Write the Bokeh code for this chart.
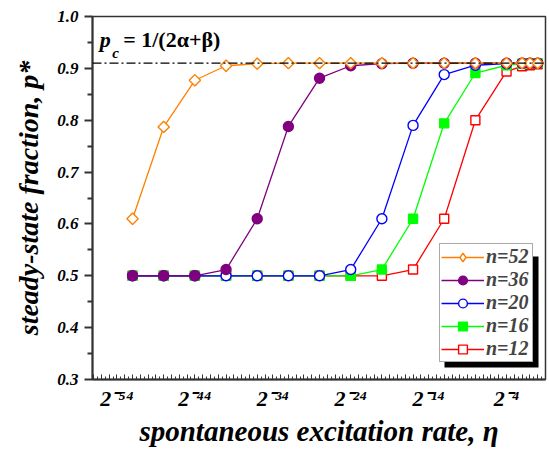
from bokeh.plotting import figure
from bokeh.models import (Range1d, FixedTicker, Legend, LegendItem, Label,
                          BoxAnnotation, Span, PrintfTickFormatter)
from bokeh.embed import file_html
from bokeh.resources import INLINE

# ---- data (eta = 2**eta_log2) ----
eta_log2 = [-52, -48, -44, -40, -36, -32, -28, -24, -20, -16, -12, -8, -4, -2, -1, 0]
p_n52 = [0.610, 0.787, 0.877, 0.905, 0.909, 0.910, 0.910, 0.910, 0.910, 0.910, 0.910, 0.910, 0.910, 0.910, 0.910, 0.910]
p_n36 = [0.500, 0.500, 0.500, 0.512, 0.610, 0.788, 0.881, 0.905, 0.909, 0.910, 0.910, 0.910, 0.910, 0.910, 0.910, 0.910]
p_n20 = [0.500, 0.500, 0.500, 0.500, 0.500, 0.500, 0.500, 0.512, 0.610, 0.790, 0.888, 0.906, 0.909, 0.910, 0.910, 0.910]
p_n16 = [0.500, 0.500, 0.500, 0.500, 0.500, 0.500, 0.500, 0.500, 0.512, 0.610, 0.794, 0.891, 0.906, 0.909, 0.910, 0.910]
p_n12 = [0.500, 0.500, 0.500, 0.500, 0.500, 0.500, 0.500, 0.500, 0.500, 0.512, 0.610, 0.800, 0.894, 0.904, 0.906, 0.908]
p_c = 0.91

x_label_exps = [-54, -44, -34, -24, -14, -4]
y_ticks = [0.3, 0.4, 0.5, 0.6, 0.7, 0.8, 0.9, 1.0]
y_minor = [0.35, 0.45, 0.55, 0.65, 0.75, 0.85, 0.95]

FONT = "Liberation Serif"
AX = "#333333"

p = figure(width=549, height=449, output_backend="svg", toolbar_location=None,
           x_range=Range1d(-57.14, 1.0), y_range=Range1d(0.3, 1.0),
           min_border_left=92, min_border_top=16, min_border_right=4, min_border_bottom=69)
p.xgrid.visible = False
p.ygrid.visible = False
p.outline_line_color = AX
p.outline_line_width = 1.5
p.background_fill_color = "white"

# ---- series ----
series = [
    (p_n12, "#ff0000", "square", "white", 9, "n=12"),
    (p_n16, "#00ff00", "square", "#00ff00", 9, "n=16"),
    (p_n20, "#0000ff", "circle", "white", 10, "n=20"),
    (p_n36, "#800080", "circle", "#800080", 10, "n=36"),
    (p_n52, "#ff8000", "diamond", "white", 8, "n=52"),
]
items = {}
for vals, col, mk, fill, sz, lab in series:
    ln = p.line(eta_log2, vals, line_color=col, line_width=1.3)
    if mk == "diamond":
        # diamond glyph used for the legend swatch (legend ignores marker angle);
        # it lies fully hidden beneath the rotated squares drawn on top of it
        sc = p.scatter(eta_log2, vals, marker="diamond", size=9,
                       line_color=col, fill_color=fill, line_width=1.4)
        p.scatter(eta_log2, vals, marker="square", angle=0.785398, size=sz,
                  line_color=col, fill_color=fill, line_width=1.4)
    else:
        sc = p.scatter(eta_log2, vals, marker=mk, size=sz,
                       line_color=col, fill_color=fill, line_width=1.4)
    items[lab] = [ln, sc]

# p_c line
p.add_layout(Span(location=p_c, dimension="width", line_color="black",
                  line_width=1.2, line_dash="9 3 2 3"))

# p_c label
p.add_layout(Label(x=-56.2, y=0.931, text="p", text_font=FONT, text_font_style="bold italic",
                   text_font_size="22px", text_color="black"))
p.add_layout(Label(x=-54.6, y=0.915, text="c", text_font=FONT, text_font_style="bold italic",
                   text_font_size="15px", text_color="black"))
p.add_layout(Label(x=-53.2, y=0.931, text="= 1/(2\u03b1+\u03b2)", text_font=FONT,
                   text_font_style="bold", text_font_size="22px", text_color="black"))

# ---- axes ----
sup = str.maketrans("-0123456789", "\u207b\u2070\u00b9\u00b2\u00b3\u2074\u2075\u2076\u2077\u2078\u2079")
x_major = list(range(-57, 2))
x_minor = [k + 0.5 for k in range(-58, 1)]
p.xaxis.ticker = FixedTicker(ticks=x_major, minor_ticks=x_minor)
p.xaxis.major_label_overrides = {k: ("2" + str(k).translate(sup) if k in x_label_exps else "")
                                 for k in x_major}
p.xaxis.major_tick_in = 5
p.xaxis.major_tick_out = 0
p.xaxis.minor_tick_in = 3
p.xaxis.minor_tick_out = 0
p.xaxis.axis_line_width = 2
p.xaxis.axis_line_color = AX
p.xaxis.major_tick_line_color = AX
p.xaxis.minor_tick_line_color = AX
p.xaxis.major_label_text_font = FONT
p.xaxis.major_label_text_font_style = "bold italic"
p.xaxis.major_label_text_font_size = "22px"
p.xaxis.major_label_text_color = "black"
p.xaxis.major_label_standoff = 6
p.xaxis.axis_label = "spontaneous excitation rate, \u03b7"
p.xaxis.axis_label_text_font = FONT
p.xaxis.axis_label_text_font_style = "bold italic"
p.xaxis.axis_label_text_font_size = "29px"
p.xaxis.axis_label_text_color = "black"
p.xaxis.axis_label_standoff = 1

p.yaxis.ticker = FixedTicker(ticks=y_ticks, minor_ticks=y_minor)
p.yaxis.formatter = PrintfTickFormatter(format="%.1f")
p.yaxis.major_tick_in = 0
p.yaxis.major_tick_out = 8
p.yaxis.minor_tick_in = 0
p.yaxis.minor_tick_out = 5
p.yaxis.axis_line_width = 2
p.yaxis.axis_line_color = AX
p.yaxis.major_tick_line_color = AX
p.yaxis.minor_tick_line_color = AX
p.yaxis.major_tick_line_width = 2
p.yaxis.minor_tick_line_width = 2
p.yaxis.major_label_text_font = FONT
p.yaxis.major_label_text_font_style = "bold italic"
p.yaxis.major_label_text_font_size = "17px"
p.yaxis.major_label_text_color = "black"
p.yaxis.major_label_standoff = 6
p.yaxis.axis_label = "steady-state fraction, p*"
p.yaxis.axis_label_text_font = FONT
p.yaxis.axis_label_text_font_style = "bold italic"
p.yaxis.axis_label_text_font_size = "28px"
p.yaxis.axis_label_text_color = "black"
p.yaxis.axis_label_standoff = 10

# ---- legend with shadow ----
p.add_layout(BoxAnnotation(left=352, right=446, bottom=12, top=123,
                           left_units="screen", right_units="screen",
                           bottom_units="screen", top_units="screen",
                           fill_color="black", fill_alpha=1.0, line_color=None))
legend = Legend(items=[LegendItem(label=l, renderers=items[l])
                       for l in ["n=52", "n=36", "n=20", "n=16", "n=12"]],
                location=(347, 17), padding=1, spacing=0, margin=0,
                glyph_width=43, glyph_height=22, label_height=22, label_width=45,
                label_standoff=2,
                label_text_font=FONT, label_text_font_style="bold italic",
                label_text_font_size="20px",
                border_line_color="#555555", border_line_width=1.5,
                background_fill_color="white", background_fill_alpha=1.0)
p.add_layout(legend, "center")

open("out.html", "w").write(file_html(p, INLINE))
